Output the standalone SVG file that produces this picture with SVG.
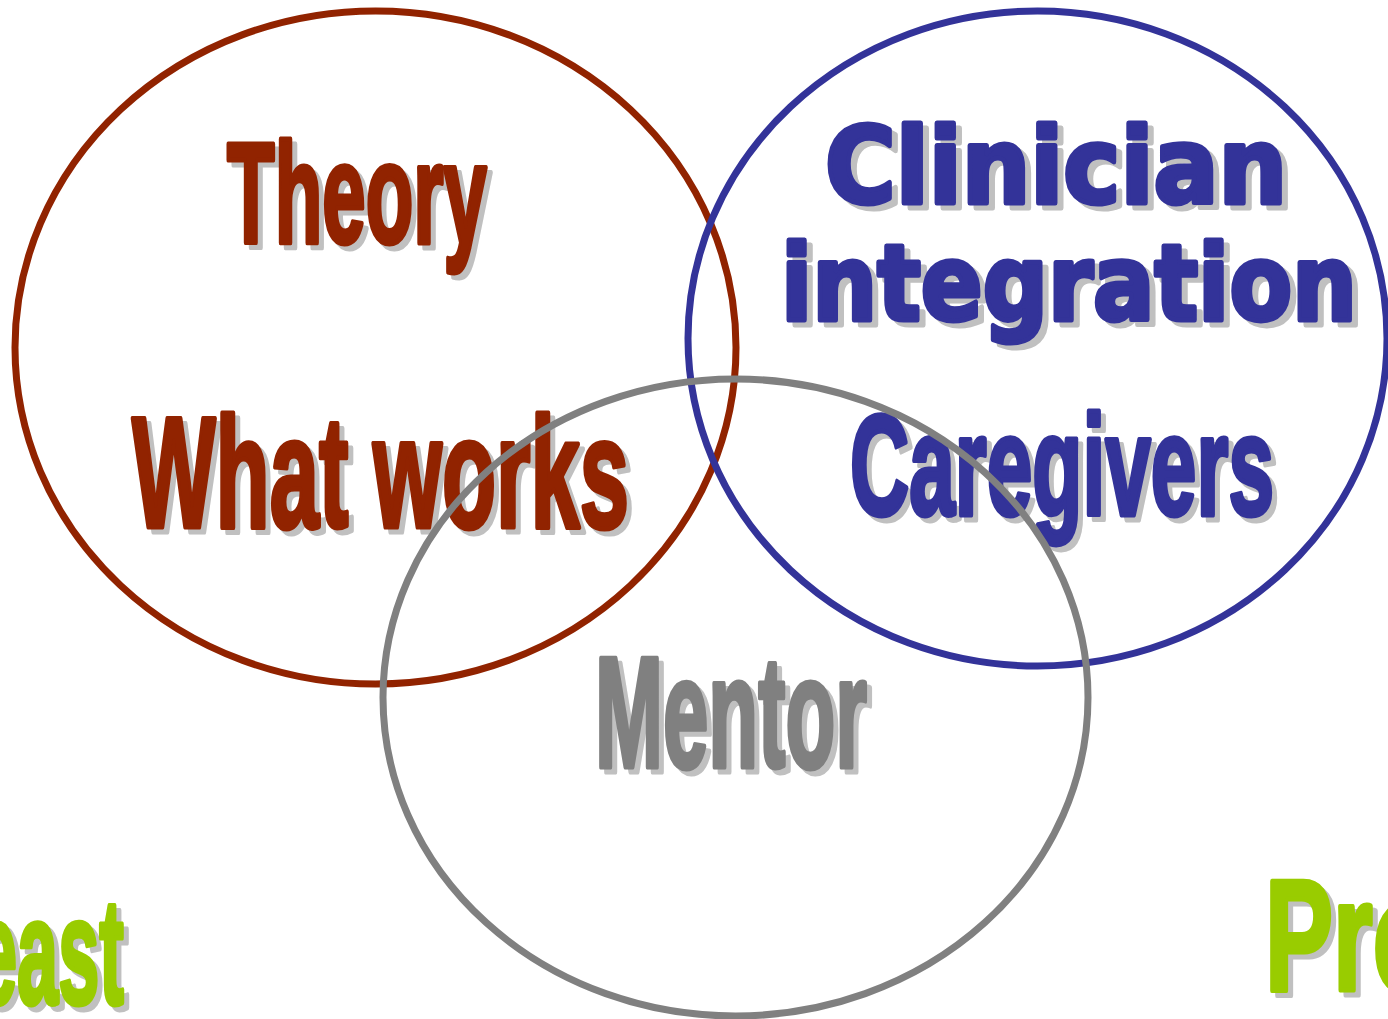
<svg xmlns="http://www.w3.org/2000/svg" width="1388" height="1019" viewBox="0 0 1388 1019">
<style>
.imp{font-family:"Liberation Sans",Arial,sans-serif;font-weight:bold;}
.blk{font-family:"DejaVu Sans","Liberation Sans",sans-serif;font-weight:bold;}
.sh{fill:#c0c0c0;stroke:#c0c0c0;stroke-width:5;stroke-linejoin:round;}
.red{fill:#912300;stroke:#912300;stroke-width:5;stroke-linejoin:round;}
.blue{fill:#333399;stroke:#333399;stroke-width:5;stroke-linejoin:round;}
.gray{fill:#808080;stroke:#808080;stroke-width:5;stroke-linejoin:round;}
.green{fill:#99cc00;stroke:#99cc00;stroke-width:5;stroke-linejoin:round;}
.ring{fill:none;stroke-width:7;}
</style>
<rect width="1388" height="1019" fill="#ffffff"/>

<g id="label-theory">
<text class="imp sh" x="232" y="248" font-size="142" textLength="260" lengthAdjust="spacingAndGlyphs">Theory</text>
<text class="imp red" x="227" y="243" font-size="142" textLength="260" lengthAdjust="spacingAndGlyphs">Theory</text>
</g>
<g id="label-whatworks">
<text class="imp sh" x="137" y="532" font-size="158" textLength="497" lengthAdjust="spacingAndGlyphs">What works</text>
<text class="imp red" x="132" y="527" font-size="158" textLength="497" lengthAdjust="spacingAndGlyphs">What works</text>
</g>
<g id="label-clinician">
<text class="blk sh" x="831" y="208" font-size="106" textLength="462" lengthAdjust="spacingAndGlyphs">Clinician</text>
<text class="blk blue" x="825" y="203" font-size="106" textLength="462" lengthAdjust="spacingAndGlyphs">Clinician</text>
<text class="blk sh" x="787" y="325" font-size="106" textLength="576" lengthAdjust="spacingAndGlyphs">integration</text>
<text class="blk blue" x="781" y="320" font-size="106" textLength="576" lengthAdjust="spacingAndGlyphs">integration</text>
</g>
<g id="label-caregivers">
<text class="imp sh" x="855" y="520" font-size="142" textLength="424" lengthAdjust="spacingAndGlyphs">Caregivers</text>
<text class="imp blue" x="850" y="515" font-size="142" textLength="424" lengthAdjust="spacingAndGlyphs">Caregivers</text>
</g>
<g id="label-mentor">
<text class="imp sh" x="600" y="772" font-size="158" textLength="272" lengthAdjust="spacingAndGlyphs">Mentor</text>
<text class="imp gray" x="595" y="767" font-size="158" textLength="272" lengthAdjust="spacingAndGlyphs">Mentor</text>
</g>
<g id="label-east">
<text class="imp sh" x="-19" y="1009" font-size="150" textLength="148" lengthAdjust="spacingAndGlyphs">east</text>
<text class="imp green" x="-24" y="1004" font-size="150" textLength="148" lengthAdjust="spacingAndGlyphs">east</text>
</g>
<g id="label-pro">
<text class="imp sh" x="1270" y="995" font-size="158" textLength="170" lengthAdjust="spacingAndGlyphs">Pro</text>
<text class="imp green" x="1265" y="990" font-size="158" textLength="170" lengthAdjust="spacingAndGlyphs">Pro</text>
</g>

<g id="circle-red"><ellipse class="ring" cx="375.5" cy="347.5" rx="360.5" ry="336.5" stroke="#912300"/></g>
<g id="circle-blue"><ellipse class="ring" cx="1037.5" cy="338.5" rx="349.5" ry="327.5" stroke="#333399"/></g>
<g id="circle-gray"><ellipse class="ring" cx="735.5" cy="697.5" rx="352.5" ry="318.5" stroke="#808080"/></g>
</svg>
